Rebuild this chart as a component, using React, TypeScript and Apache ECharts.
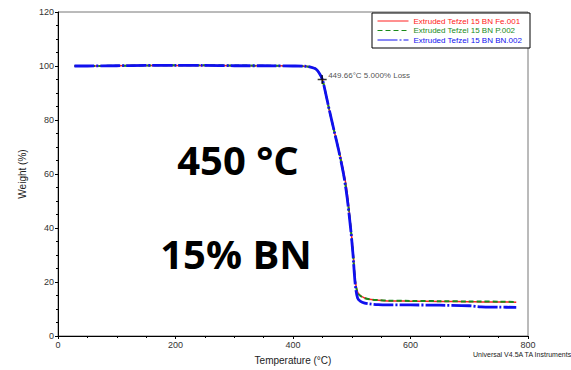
import React, { useEffect, useRef } from "react";
import * as echarts from "echarts";

const temps = [28, 50, 100, 150, 200, 250, 300, 350, 400, 420, 430, 438, 444, 450, 456, 462, 470, 478, 486, 492, 498, 502, 506, 510, 515, 522, 530, 545, 560, 600, 650, 700, 720, 750, 780];
const redWeight = [100, 100, 100.1, 100.2, 100.2, 100.2, 100.1, 100.1, 100, 99.9, 99.6, 99, 97.6, 95, 89.5, 83.5, 76, 69, 61, 53.5, 41, 32, 20.5, 16.2, 14.9, 14.1, 13.6, 13.2, 13, 12.9, 12.8, 12.7, 12.6, 12.6, 12.5];
const greenWeight = [100, 100, 100.1, 100.2, 100.3, 100.3, 100.2, 100.1, 100, 99.9, 99.6, 99, 97.6, 95, 89.5, 83.5, 76, 68.5, 60, 52, 40.5, 31, 20, 16, 14.8, 14, 13.6, 13.3, 13.1, 13, 12.9, 12.8, 12.8, 12.7, 12.6];
const blueWeight = [100, 100, 100.1, 100.2, 100.2, 100.2, 100.1, 100.1, 100, 99.9, 99.6, 99, 97.6, 95, 89.5, 83.5, 76, 68.5, 60, 51.5, 40, 30.5, 19, 14, 12.8, 12.2, 11.9, 11.6, 11.5, 11.5, 11.4, 11.2, 10.8, 10.7, 10.6];
const seriesNames = ["Extruded Tefzel 15 BN Fe.001", "Extruded Tefzel 15 BN P.002", "Extruded Tefzel 15 BN BN.002"];
const seriesColors = ["#ff2020", "#1a8a1a", "#1010ee"];
const onsetPoint = [449.66, 95];
const onsetLabel = "449.66°C 5.000% Loss";
const xTicks = { min: 0, max: 800, interval: 200 };
const yTicks = { min: 0, max: 120, interval: 20 };

function pairs(ws: number[]) {
  return temps.map((t, i) => [t, ws[i]]);
}

export default function App() {
  const ref = useRef<HTMLDivElement>(null);
  useEffect(() => {
    if (!ref.current) return;
    const chart = echarts.init(ref.current, undefined, { renderer: "svg" });
    const font = "Liberation Sans";
    chart.setOption({
      animation: false,
      grid: { left: 58, right: 43, top: 12, bottom: 32, show: true, borderColor: "#777", borderWidth: 1 },
      legend: {
        orient: "vertical",
        left: 372,
        top: 13,
        padding: [4, 8, 4, 5],
        itemGap: 1.5,
        itemWidth: 31,
        itemHeight: 8,
        borderColor: "#000",
        borderWidth: 1,
        backgroundColor: "#fff",
        itemStyle: { opacity: 0 },
        lineStyle: { width: 1 },
        textStyle: { fontFamily: font, fontSize: 8 },
        data: seriesNames.map((n, i) => ({ name: n, textStyle: { color: seriesColors[i] } })),
      },
      xAxis: {
        type: "value",
        min: xTicks.min,
        max: xTicks.max,
        interval: xTicks.interval,
        name: "Temperature (°C)",
        nameLocation: "middle",
        nameGap: 19,
        nameTextStyle: { fontFamily: font, fontSize: 10, color: "#222" },
        axisLine: { lineStyle: { color: "#000", width: 1 } },
        axisTick: { length: 3, lineStyle: { color: "#000" } },
        minorTick: { show: true, splitNumber: 4, length: 2, lineStyle: { color: "#000" } },
        axisLabel: { fontFamily: font, fontSize: 9, color: "#333", margin: 4 },
        splitLine: { show: false },
      },
      yAxis: {
        type: "value",
        min: yTicks.min,
        max: yTicks.max,
        interval: yTicks.interval,
        name: "Weight (%)",
        nameLocation: "middle",
        nameGap: 31,
        nameTextStyle: { fontFamily: font, fontSize: 10, color: "#222" },
        axisLine: { show: true, lineStyle: { color: "#000", width: 1 } },
        axisTick: { show: true, length: 3, lineStyle: { color: "#000" } },
        minorTick: { show: true, splitNumber: 4, length: 2, lineStyle: { color: "#000" } },
        axisLabel: { fontFamily: font, fontSize: 9, color: "#333", margin: 4 },
        splitLine: { show: false },
      },
      series: [
        {
          name: seriesNames[0], type: "line", data: pairs(redWeight), symbol: "none", smooth: 0.3,
          color: seriesColors[0], lineStyle: { color: seriesColors[0], width: 1.5, type: "solid" },
        },
        {
          name: seriesNames[1], type: "line", data: pairs(greenWeight), symbol: "none", smooth: 0.3,
          color: seriesColors[1], lineStyle: { color: seriesColors[1], width: 2, type: [5, 3] },
        },
        {
          name: seriesNames[2], type: "line", data: pairs(blueWeight), symbol: "none", smooth: 0.3,
          color: seriesColors[2], lineStyle: { color: seriesColors[2], width: 2.8, type: [20, 2, 2, 2] },
        },
        {
          name: "onset", type: "scatter", data: [onsetPoint], symbol: "path://M0,5L10,5M5,0L5,10", symbolSize: 9,
          itemStyle: { color: "none", borderColor: "#000", borderWidth: 1.5 },
          label: { show: true, position: "right", offset: [-6, -4], formatter: onsetLabel, fontFamily: font, fontSize: 8, color: "#222" },
          z: 5,
        },
      ],
      graphic: [
        { type: "text", style: { text: "450 °C", x: 238, y: 159, align: "center", verticalAlign: "middle", font: 'bold 40px "Open Sans"', fill: "#000" } },
        { type: "text", style: { text: "15% BN", x: 236, y: 253, align: "center", verticalAlign: "middle", font: 'bold 40px "Open Sans"', fill: "#000" } },
        { type: "text", style: { text: "Universal V4.5A TA Instruments", x: 473, y: 354, align: "left", verticalAlign: "middle", font: '7px "Liberation Sans"', fill: "#222" } },
      ],
    });
    return () => chart.dispose();
  }, []);
  return <div ref={ref} style={{ width: 571, height: 370, position: "absolute", left: 0, top: 0, background: "#fff" }} />;
}
